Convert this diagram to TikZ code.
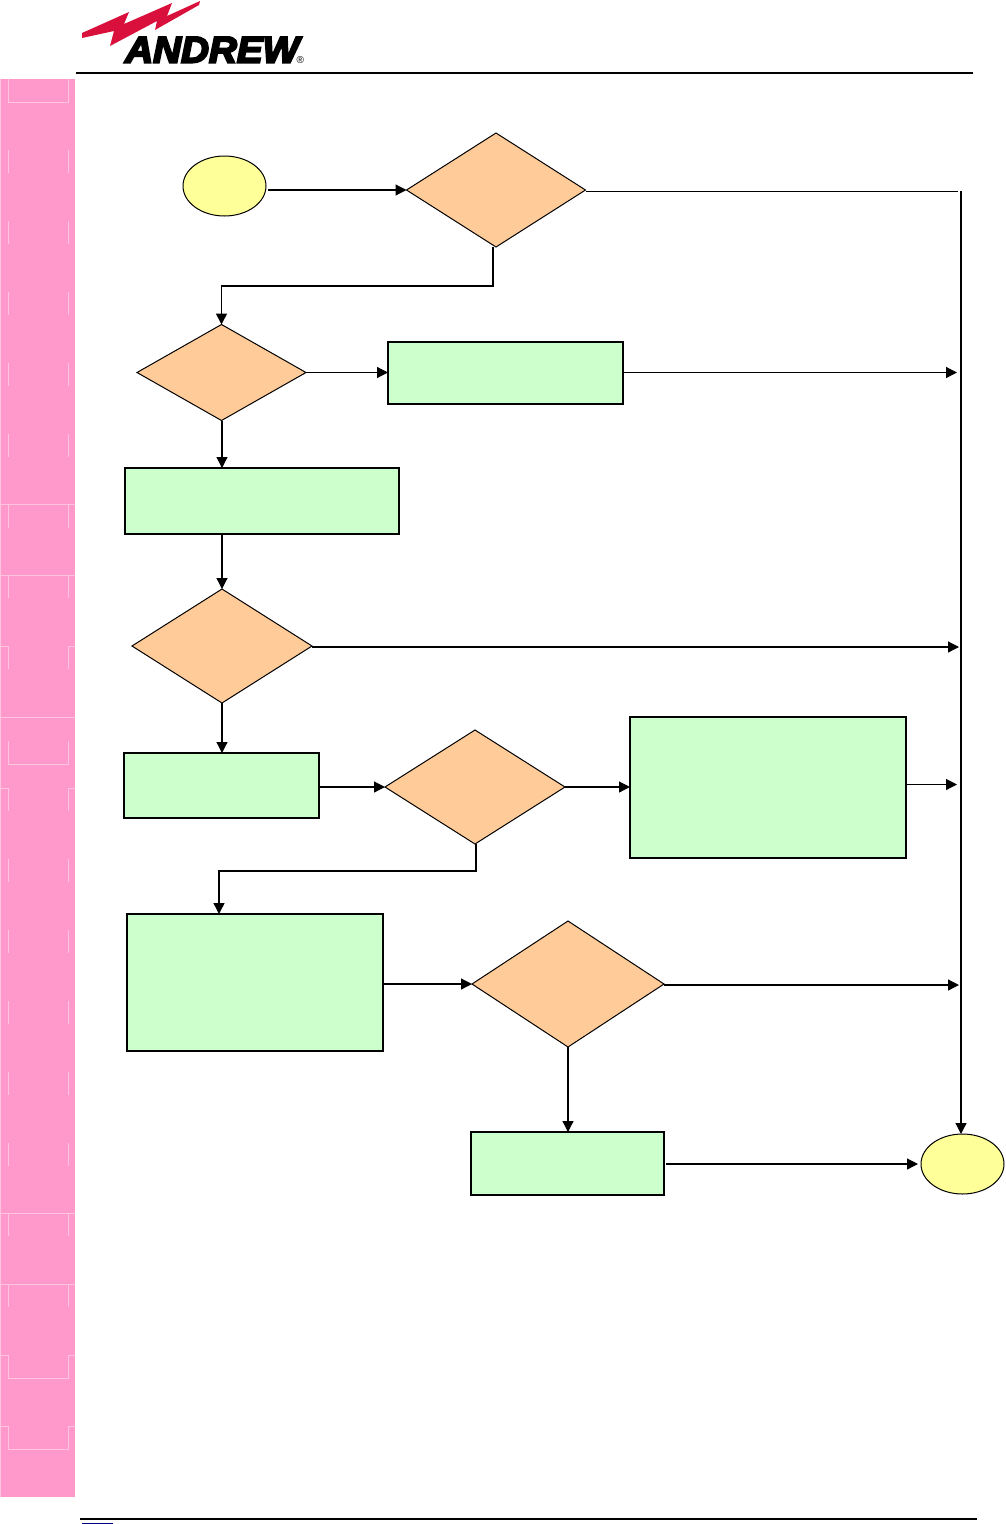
\documentclass[tikz,border=0pt]{standalone}
\usepackage{fontspec}
\setmainfont{Liberation Sans}
\newfontfamily\logofont[FakeBold=5.5]{Liberation Sans Bold Italic}
\usetikzlibrary{shapes.geometric,arrows.meta,calc}
\definecolor{sidepink}{HTML}{FF99CC}
\definecolor{sidepale}{HTML}{FFC4E0}
\definecolor{startyellow}{HTML}{FFFF99}
\definecolor{decorange}{HTML}{FFCC99}
\definecolor{boxgreen}{HTML}{CCFFCC}
\definecolor{boltred}{HTML}{D9103C}
\definecolor{footnavy}{HTML}{000080}
\tikzset{
  term/.style={ellipse,draw=black,line width=1pt,fill=startyellow,inner sep=0pt,outer sep=0pt,minimum width=83pt,minimum height=60pt},
  dec/.style={diamond,draw=black,line width=1pt,fill=decorange,inner sep=0pt,outer sep=0pt},
  procbox/.style={rectangle,draw=black,line width=1.4pt,fill=boxgreen,inner sep=0pt,outer sep=0pt},
  conn/.style={line width=1.2pt,draw=black,-{Triangle[length=11pt,width=11pt]}},
  pale/.style={draw=sidepale,line width=0.9pt},
}
\begin{document}
\begin{tikzpicture}[x=1pt,y=-1pt]
\useasboundingbox (0,0) rectangle (1005,1524);
% sidebar
\fill[sidepink] (0,79) rectangle (75,1497);
\draw[pale] (0.5,79) -- (0.5,1497);
\draw[pale] (8.5,79) -- (8.5,102) -- (68.5,102) -- (68.5,79);
\foreach \y in {150,221,292,363,434,505,575,646,788,859,930,1001,1072,1143,1213,1284}
  {\draw[pale] (8.5,\y) -- ++(0,23); \draw[pale] (68.5,\y) -- ++(0,23);}
\foreach \y in {504.5,575.5,717,1213.5,1284.5}
  {\draw[pale] (0,\y) -- (75,\y);}
\foreach \y in {646,788}
  {\draw[pale] (0,\y) -- (8.5,\y); \draw[pale] (68.5,\y) -- (75,\y);}
\draw[pale] (8.5,741) -- (8.5,764) -- (68.5,764) -- (68.5,741);
\foreach \y in {1355,1426}
  {\draw[pale] (0,\y) -- (8.5,\y) -- (8.5,\y+23) -- (68.5,\y+23) -- (68.5,\y) -- (75,\y);}
% header
\fill[boltred] (82,33) -- (129,12) -- (124,24) -- (172,3) -- (167,16) -- (200,1) -- (199,5) -- (155,30) -- (157,21) -- (110,46) -- (114,31) -- (82,38) -- cycle;
\node[anchor=base west,inner sep=0pt,xscale=1.045] (logotext) at (125,62.5) {\logofont\fontsize{37}{37}\selectfont ANDREW};
\node[anchor=base west,inner sep=0pt] (logomark) at (296.5,63) {\fontsize{10}{10}\selectfont ®};
\draw[black,line width=2pt] (76,73) -- (973,73);
% footer
\draw[black,line width=2pt] (80,1519) -- (977,1519);
\draw[footnavy,line width=1pt] (82,1523.5) -- (113,1523.5);
% nodes
\node[term] (start) at (224.5,186) {};
\node[term] (stop) at (962.5,1164) {};
\node[dec,minimum width=179pt,minimum height=114pt] (d1) at (496,190) {};
\node[dec,minimum width=169pt,minimum height=96pt] (d2) at (221.5,372.5) {};
\node[dec,minimum width=180pt,minimum height=114pt] (d3) at (222,646) {};
\node[dec,minimum width=180pt,minimum height=114pt] (d4) at (475,787) {};
\node[dec,minimum width=192pt,minimum height=126pt] (d5) at (568,984) {};
\node[procbox,minimum width=235pt,minimum height=62pt] (b1) at (505.5,373) {};
\node[procbox,minimum width=274pt,minimum height=66pt] (b2) at (262,501) {};
\node[procbox,minimum width=195pt,minimum height=65pt] (b3) at (221.5,785.5) {};
\node[procbox,minimum width=276pt,minimum height=141pt] (b4) at (768,787.5) {};
\node[procbox,minimum width=256pt,minimum height=137pt] (b5) at (255,982.5) {};
\node[procbox,minimum width=193pt,minimum height=63pt] (b6) at (567.5,1163.5) {};
% free ends
\coordinate (railtop) at (961,191);
\coordinate (railstub) at (958,191);
\coordinate (r1) at (957,372.5);
\coordinate (r3) at (959,647);
\coordinate (r4) at (957,784.5);
\coordinate (r5) at (959,985);
% connectors
\draw[conn] ($(start.east)+(2,4)$) -- (d1.west);
\draw[line width=0.8pt] (railstub -| d1.east) -- (railstub);
\draw[conn] (railtop) -- (stop.north -| railtop);
\draw[conn,line width=1.6pt] ($(d1.south)+(-3,0)$) |- (221.5,286) -- (d2.north);
\draw[conn] (d2.east) -- (b1.west |- d2.east);
\draw[conn] (r1 -| b1.east) -- (r1);
\draw[conn] (222,420.5) -- (b2.north -| 222,0);
\draw[conn] (b2.south -| 222,0) -- (d3.north);
\draw[conn] (r3 -| d3.east) -- (r3);
\draw[conn] (d3.south) -- (b3.north -| d3.south);
\draw[conn] (b3.east |- d4.west) -- (d4.west);
\draw[conn] (d4.east) -- (b4.west |- d4.east);
\draw[conn] (b4.east |- r4) -- (r4);
\draw[conn,line width=1.4pt] ($(d4.south)+(1,0)$) |- (219,871) -- (b5.north -| 219,0);
\draw[conn] (b5.east |- d5.west) -- (d5.west);
\draw[conn] (r5 -| d5.east) -- (r5);
\draw[conn] (d5.south) -- (d5.south |- b6.north);
\draw[conn] (666,1164) -- (918,1164);
\end{tikzpicture}
\end{document}
